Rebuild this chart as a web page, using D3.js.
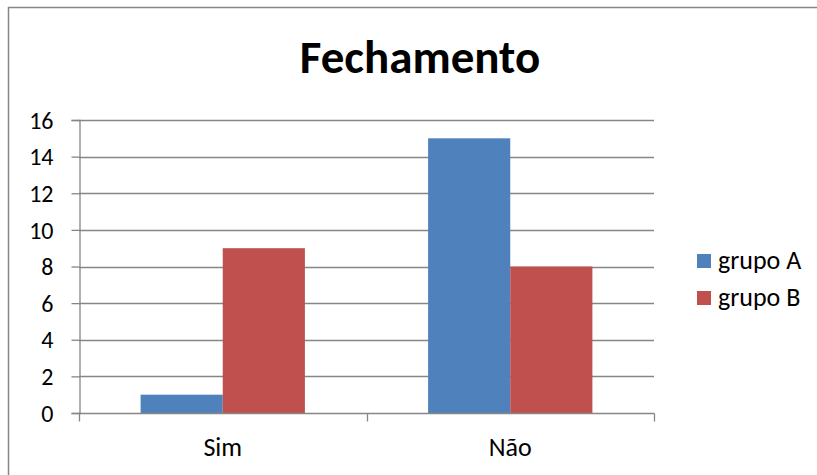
<!DOCTYPE html>
<html>
<head>
<meta charset="utf-8">
<script src="https://cdn.jsdelivr.net/npm/d3@7"></script>
<style>
  html, body { margin: 0; padding: 0; background: #fff; }
  svg { display: block; }
  text { font-family: Carlito, Lato, "Open Sans", sans-serif; fill: #000; }
</style>
</head>
<body>
<svg id="chart" width="817" height="475"></svg>
<script>
// Chart data
const categories = ["Sim", "Não"];
const seriesNames = ["grupo A", "grupo B"];
const grupoA = [1, 15];
const grupoB = [9, 8];
const yTicks = [0, 2, 4, 6, 8, 10, 12, 14, 16];
const colors = ["#4F81BD", "#C0504D"];
const title = "Fechamento";

const svg = d3.select("#chart");
const plot = { left: 79, right: 654, top: 120, bottom: 413 };
const gridColor = "#868686";
const tickSize = 24;
const labelSize = 26;

// Outer chart frame (continues past the right and bottom edges)
svg.append("rect")
  .attr("x", 8.5).attr("y", 7.5)
  .attr("width", 830).attr("height", 490)
  .attr("fill", "none").attr("stroke", gridColor).attr("stroke-width", 1.5);

// Scales
const x = d3.scaleBand().domain(categories).range([plot.left, plot.right]).paddingInner(0).paddingOuter(0);
const xSeries = d3.scaleBand().domain(seriesNames).range([0, x.bandwidth()]).paddingInner(0).paddingOuter(0.75);
const y = d3.scaleLinear().domain([0, 16]).range([plot.bottom, plot.top]);

// Horizontal gridlines
svg.append("g").selectAll("line").data(yTicks.filter(d => d > 0)).join("line")
  .attr("x1", plot.left).attr("x2", plot.right)
  .attr("y1", d => Math.round(y(d)) + 0.5).attr("y2", d => Math.round(y(d)) + 0.5)
  .attr("stroke", gridColor).attr("stroke-width", 1.3);

// Bars
const table = categories.map((c, i) => ({ cat: c, values: [grupoA[i], grupoB[i]] }));
const groups = svg.append("g").selectAll("g").data(table).join("g")
  .attr("transform", d => `translate(${x(d.cat)},0)`);
groups.selectAll("rect").data(d => d.values.map((v, j) => ({ name: seriesNames[j], v, j }))).join("rect")
  .attr("x", d => xSeries(d.name))
  .attr("width", xSeries.bandwidth())
  .attr("y", d => y(d.v))
  .attr("height", d => y(0) - y(d.v))
  .attr("fill", d => colors[d.j]);

// Y axis
const yAxis = svg.append("g")
  .attr("transform", `translate(${plot.left + 0.5},0)`)
  .call(d3.axisLeft(y).tickValues(yTicks).tickSize(8).tickPadding(18).tickFormat(d3.format("d")));
yAxis.select(".domain").attr("stroke", gridColor).attr("stroke-width", 1.3);
yAxis.selectAll(".tick line").attr("stroke", gridColor).attr("stroke-width", 1.3);
yAxis.selectAll(".tick text").attr("font-size", tickSize).attr("font-family", "Carlito, Lato, sans-serif").attr("fill", "#000").attr("dy", "0.34em");

// X axis with ticks between categories
const xAxis = svg.append("g").attr("transform", `translate(0,${Math.round(y(0)) + 0.5})`);
xAxis.append("line").attr("x1", plot.left).attr("x2", plot.right + 0.5)
  .attr("stroke", gridColor).attr("stroke-width", 1.3);
const edges = categories.map(c => x(c)).concat([x(categories[categories.length - 1]) + x.bandwidth()]);
xAxis.selectAll("line.tk").data(edges).join("line").attr("class", "tk")
  .attr("x1", d => Math.round(d) + 0.5).attr("x2", d => Math.round(d) + 0.5)
  .attr("y1", 0).attr("y2", 8)
  .attr("stroke", gridColor).attr("stroke-width", 1.3);
xAxis.selectAll("text").data(categories).join("text")
  .attr("x", d => x(d) + x.bandwidth() / 2)
  .attr("y", 42)
  .attr("text-anchor", "middle")
  .attr("font-size", labelSize)
  .text(d => d);

// Title
svg.append("text")
  .attr("x", 420).attr("y", 73)
  .attr("text-anchor", "middle")
  .attr("font-size", 47).attr("font-weight", "bold")
  .text(title);

// Legend
const legend = svg.append("g").attr("transform", "translate(697,254)");
const items = legend.selectAll("g").data(seriesNames).join("g")
  .attr("transform", (d, i) => `translate(0,${i * 37})`);
items.append("rect").attr("width", 14).attr("height", 14).attr("fill", (d, i) => colors[i]);
items.append("text").attr("x", 21).attr("y", 15).attr("font-size", labelSize).text(d => d);
</script>
</body>
</html>
